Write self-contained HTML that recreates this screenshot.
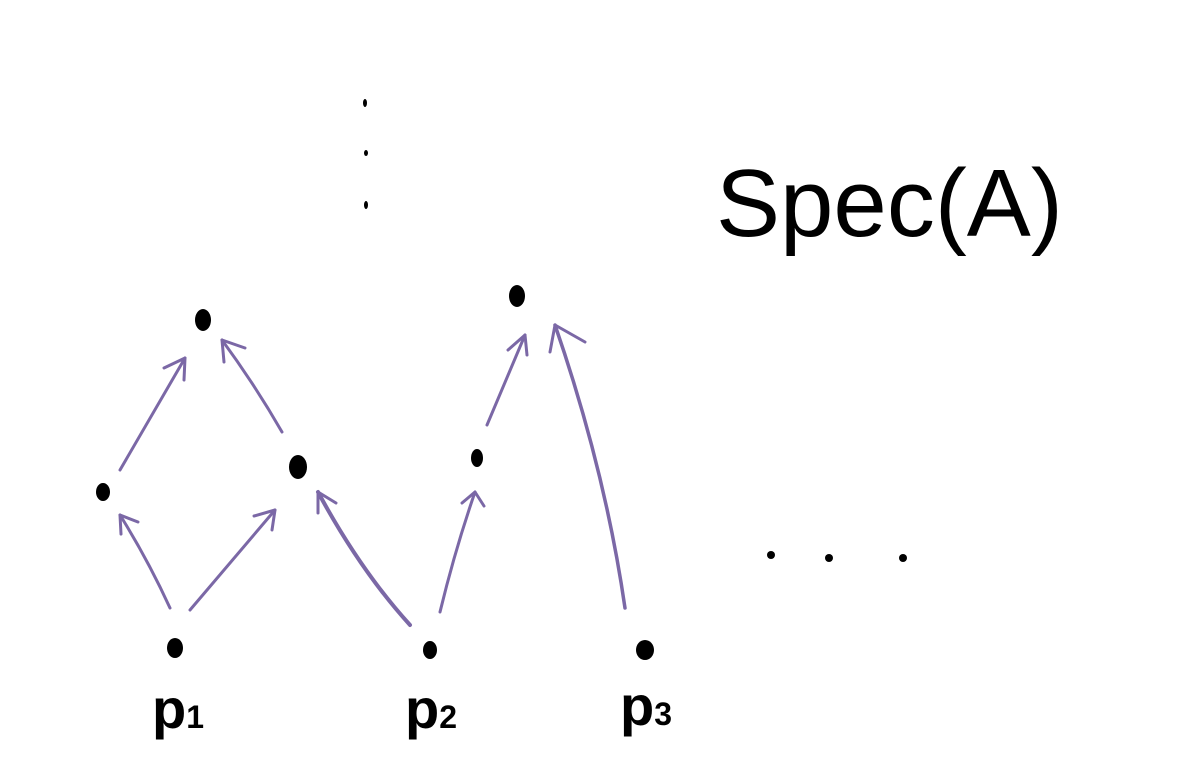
<!DOCTYPE html>
<html><head><meta charset="utf-8"><style>
html,body{margin:0;padding:0;background:#fff;}
svg{display:block}
</style></head><body>
<svg width="1180" height="760" viewBox="0 0 1180 760" xmlns="http://www.w3.org/2000/svg">
<g stroke="#7b68a6" stroke-width="3" fill="none" stroke-linecap="round">
<path d="M120,470 L185,358"/><path d="M185,358 L164,368 M185,358 L184,380"/>
<path d="M282,432 Q255,385 222,340"/><path d="M222,340 L245,348 M222,340 L224,362"/>
<path d="M170,608 Q148,560 120,515"/><path d="M120,515 L138,522 M120,515 L121,534"/>
<path d="M190,610 L275,510"/><path d="M275,510 L254,516 M275,510 L272,530"/>
<path d="M410,625 Q360,570 318,492" stroke-width="4"/><path d="M318,492 L336,503 M318,492 L318,513"/>
<path d="M440,612 Q455,550 475,492"/><path d="M475,492 L462,503 M475,492 L484,506"/>
<path d="M487,425 L525,335"/><path d="M525,335 L508,350 M525,335 L527,355"/>
<path d="M625,608 Q605,470 555,325" stroke-width="3.5"/><path d="M555,325 L550,352 M555,325 L585,342"/>
</g>
<g fill="#000">
<ellipse cx="203" cy="320" rx="8" ry="11"/>
<ellipse cx="517" cy="296" rx="8" ry="11"/>
<ellipse cx="103" cy="492" rx="7" ry="9"/>
<ellipse cx="298" cy="467" rx="9" ry="12"/>
<ellipse cx="477" cy="458" rx="6" ry="9"/>
<ellipse cx="175" cy="648" rx="8" ry="10"/>
<ellipse cx="430" cy="650" rx="7" ry="9"/>
<ellipse cx="645" cy="650" rx="9" ry="10"/>
<ellipse cx="365" cy="103" rx="2" ry="4"/>
<ellipse cx="366" cy="153" rx="2" ry="3"/>
<ellipse cx="366" cy="205" rx="2" ry="4"/>
<circle cx="771" cy="555" r="4"/>
<circle cx="829" cy="558" r="4"/>
<circle cx="903" cy="558" r="4"/>
</g>
<g font-family="'Liberation Sans',sans-serif" fill="#000">
<text x="716" y="236" font-size="96">Spec(A)</text>
<text x="152" y="728" font-size="56" font-weight="bold">p<tspan font-size="32">1</tspan></text>
<text x="405" y="728" font-size="56" font-weight="bold">p<tspan font-size="32">2</tspan></text>
<text x="620" y="725" font-size="56" font-weight="bold">p<tspan font-size="32">3</tspan></text>
</g>
</svg>
</body></html>
